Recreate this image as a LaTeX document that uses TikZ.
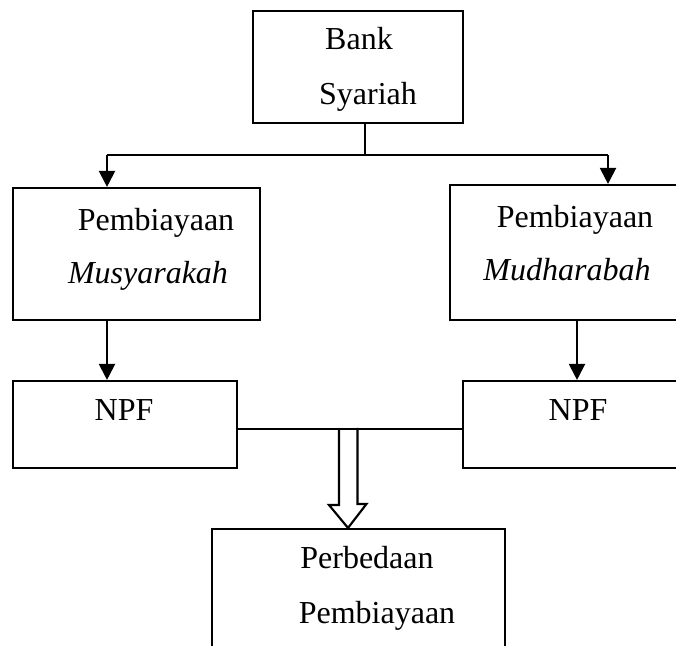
\documentclass[tikz,border=0pt]{standalone}
\usepackage{fontspec}
\setmainfont{Liberation Serif}
\usetikzlibrary{arrows.meta, fit}

\tikzset{
  kotak/.style={draw, line width=0.8pt, inner sep=0pt},
  teks/.style={anchor=base, inner sep=0pt, font=\fontsize{12}{14}\selectfont},
  garis/.style={line width=0.8pt},
  panah/.style={line width=0.8pt, -{Triangle[width=6pt,length=6pt]}}
}

\begin{document}
\begin{tikzpicture}[x=0.375pt, y=-0.375pt]
	\useasboundingbox (0,0) rectangle (676,645);
	\clip (0,0) rectangle (676,645);
	
	% Kotak-kotak
	\node[kotak, fit={(253,11) (463,123)}] (bank) {};
	\node[kotak, fit={(13,188) (260,320)}] (musy) {};
	\node[kotak, fit={(450,185) (700,320)}] (mudh) {};
	\node[kotak, fit={(13,381) (237,468)}] (npfL) {};
	\node[kotak, fit={(463,381) (700,468)}] (npfR) {};
	\node[kotak, fit={(212,529) (505,680)}] (beda) {};
	
	% Tulisan
	\node[teks] (tBank) at (359,50) {Bank};
	\node[teks] (tSyariah) at (368,105) {Syariah};
	\node[teks] (tPemL) at (156,230) {Pembiayaan};
	\node[teks] (tMusy) at (148,283) {\textit{Musyarakah}};
	\node[teks] (tPemR) at (575,227) {Pembiayaan};
	\node[teks] (tMudh) at (567,280) {\textit{Mudharabah}};
	\node[teks] (tNpfL) at (124,420) {NPF};
	\node[teks] (tNpfR) at (578,420) {NPF};
	\node[teks] (tBeda) at (367,568) {Perbedaan};
	\node[teks] (tPemB) at (377,623) {Pembiayaan};
	
	% Titik bantu
	\coordinate (cabang) at (365,155);
	\coordinate (kiri) at (107,155);
	\coordinate (kanan) at (608,155);
	\coordinate (kanan2) at (577,0);
	\coordinate (gabung) at (348,429);
	
	% Panah besar
	\draw[garis, fill=white] (gabung) ++(-9,0) -- ++(0,76) -- ++(-10,0)
		-- (beda.north -| gabung) -- ++(18.5,-24) -- ++(-9,0) -- ++(0,-76);
	
	% Garis dan panah
	\draw[garis] (bank.south -| cabang) -- (cabang);
	\draw[garis] (kiri) -- (kanan);
	\draw[panah] (kiri) -- (kiri |- musy.north);
	\draw[panah] (kanan) -- (kanan |- mudh.north);
	\draw[panah] (musy.south -| kiri) -- (npfL.north -| kiri);
	\draw[panah] (mudh.south -| kanan2) -- (npfR.north -| kanan2);
	\draw[garis] (npfL.east |- gabung) -- (npfR.west |- gabung);
\end{tikzpicture}
\end{document}
